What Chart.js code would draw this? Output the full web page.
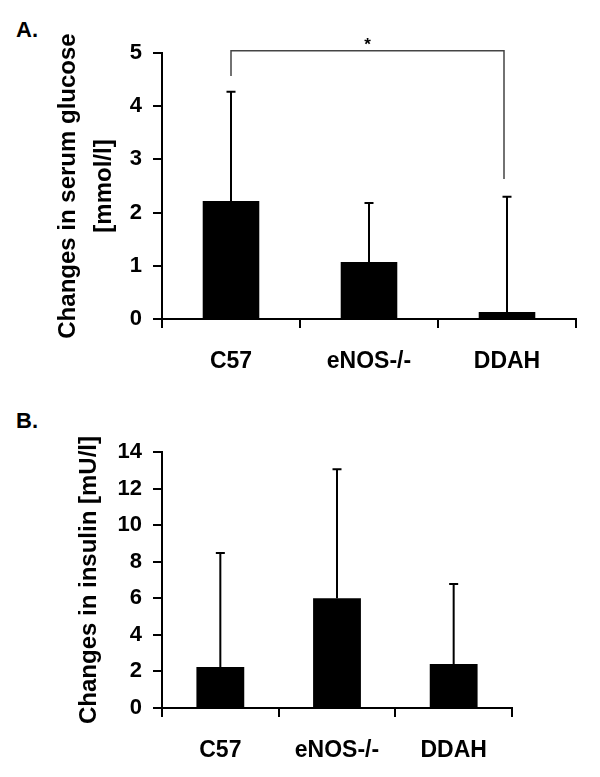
<!DOCTYPE html>
<html>
<head>
<meta charset="utf-8">
<script src="https://cdn.jsdelivr.net/npm/chart.js@4"></script>
<style>
  body { margin: 0; background: #fff; width: 600px; height: 777px; position: relative; overflow: hidden;
         font-family: "Liberation Sans", Arial, sans-serif; }
  .panel { position: absolute; left: 0; }
  .panel canvas { display: block; }
  .tag { position: absolute; font-weight: bold; font-size: 22px; line-height: 1; }
</style>
</head>
<body>
<div class="tag" style="left:16px;top:19px">A.</div>
<div class="panel" style="top:0"><canvas id="chartA" width="600" height="380"></canvas></div>
<div class="tag" style="left:16px;top:410px">B.</div>
<div class="panel" style="top:380px"><canvas id="chartB" width="600" height="397"></canvas></div>
<script>
// groups
const groups = ['C57', 'eNOS-/-', 'DDAH'];

// A. serum glucose change (mmol/l), mean and SD
const glucoseMean = [2.22, 1.07, 0.13];
const glucoseSD = [2.05, 1.11, 2.17];
const glucoseTicks = [0, 1, 2, 3, 4, 5];

// B. insulin change (mU/l), mean and SD
const insulinMean = [2.24, 6.0, 2.4];
const insulinSD = [6.23, 7.06, 4.38];
const insulinTicks = [0, 2, 4, 6, 8, 10, 12, 14];

// significance bracket in panel A: C57 vs DDAH (left foot, top, right foot)
const bracketLevels = [4.57, 5.04, 2.63];

const FONT = '"Liberation Sans", Arial, sans-serif';

// draws the upper error bar above every bar
const errorBars = {
  id: 'errorBars',
  afterDatasetsDraw(chart, args, opts) {
    const ctx = chart.ctx;
    const y = chart.scales.y;
    const data = chart.data.datasets[0].data;
    ctx.save();
    ctx.strokeStyle = '#000';
    ctx.lineWidth = 2;
    chart.getDatasetMeta(0).data.forEach((bar, i) => {
      const top = y.getPixelForValue(data[i] + opts.sd[i]);
      ctx.beginPath();
      ctx.moveTo(bar.x, bar.y);
      ctx.lineTo(bar.x, top);
      ctx.moveTo(bar.x - 4.5, top);
      ctx.lineTo(bar.x + 4.5, top);
      ctx.stroke();
    });
    ctx.restore();
  }
};

// bracket with asterisk
const bracket = {
  id: 'bracket',
  afterDraw(chart, args, opts) {
    if (!opts.levels) return;
    const ctx = chart.ctx;
    const y = chart.scales.y;
    const bars = chart.getDatasetMeta(0).data;
    const x1 = bars[opts.from].x, x2 = bars[opts.to].x - 3;
    const yTop = y.getPixelForValue(opts.levels[1]);
    ctx.save();
    ctx.strokeStyle = '#444';
    ctx.lineWidth = 1.5;
    ctx.beginPath();
    ctx.moveTo(x1, y.getPixelForValue(opts.levels[0]));
    ctx.lineTo(x1, yTop);
    ctx.lineTo(x2, yTop);
    ctx.lineTo(x2, y.getPixelForValue(opts.levels[2]));
    ctx.stroke();
    ctx.fillStyle = '#000';
    ctx.font = 'bold 17px ' + FONT;
    ctx.textAlign = 'center';
    ctx.textBaseline = 'middle';
    ctx.fillText('*', (x1 + x2) / 2, yTop - 6);
    ctx.restore();
  }
};

function makeChart(id, means, sd, ticks, title, area, canvasH, titlePad, extra) {
  const step = ticks[1] - ticks[0];
  return new Chart(document.getElementById(id), {
    type: 'bar',
    data: {
      labels: groups,
      datasets: [{
        data: means,
        backgroundColor: '#000',
        borderWidth: 0,
        barPercentage: 0.41,
        categoryPercentage: 1.0
      }]
    },
    options: {
      responsive: false,
      animation: false,
      layout: { padding: { top: area.top, right: 600 - area.right, left: 0, bottom: 0 } },
      plugins: {
        legend: { display: false },
        tooltip: { enabled: false },
        errorBars: { sd: sd },
        bracket: extra || {}
      },
      scales: {
        x: {
          afterFit: s => { s.height = canvasH - area.bottom; },
          border: { display: true, color: '#000', width: 2 },
          grid: { display: true, offset: true, drawOnChartArea: false, drawTicks: true,
                  tickLength: 9, color: '#000', lineWidth: 2 },
          ticks: { color: '#000', padding: 20, font: { family: FONT, size: 23, weight: 'bold' } }
        },
        y: {
          min: ticks[0],
          max: ticks[ticks.length - 1],
          afterFit: s => { s.width = area.left; },
          border: { display: true, color: '#000', width: 2 },
          grid: { display: true, drawOnChartArea: false, drawTicks: true,
                  tickLength: 9, color: '#000', lineWidth: 2 },
          ticks: { stepSize: step, color: '#000', padding: 11,
                   font: { family: FONT, size: 22, weight: 'bold' } },
          title: { display: true, text: title, color: '#000',
                   padding: { top: titlePad, bottom: 0 },
                   font: { family: FONT, size: 24, weight: 'bold', lineHeight: 1.5 } }
        }
      }
    },
    plugins: [errorBars, bracket]
  });
}

makeChart('chartA', glucoseMean, glucoseSD, glucoseTicks,
  ['Changes in serum glucose', '[mmol/l]'],
  { left: 162, top: 53, right: 576, bottom: 319 }, 380, 50,
  { from: 0, to: 2, levels: bracketLevels });

makeChart('chartB', insulinMean, insulinSD, insulinTicks,
  'Changes in insulin [mU/l]',
  { left: 162, top: 72, right: 512, bottom: 328 }, 397, 71);
</script>
</body>
</html>
